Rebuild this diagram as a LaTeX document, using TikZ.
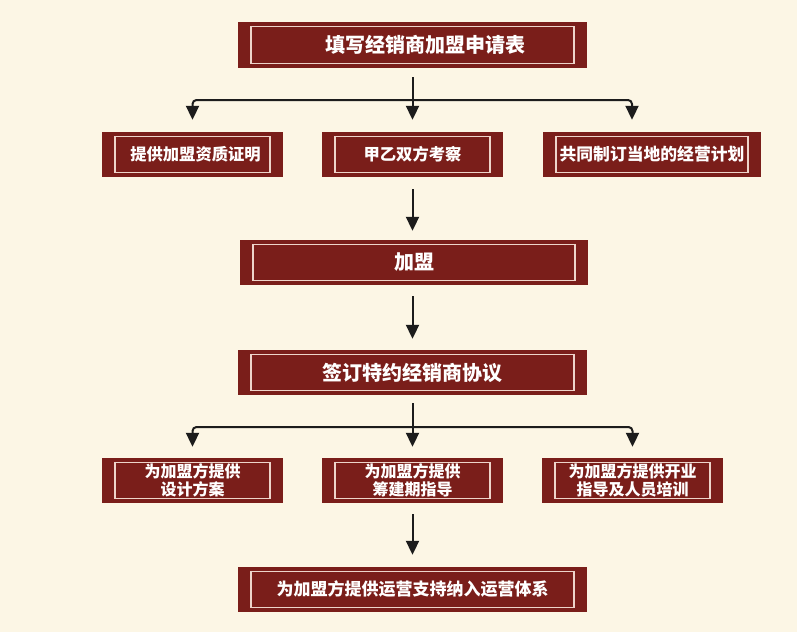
\documentclass[tikz,border=0pt]{standalone}
\usepackage{fontspec}
\newfontfamily\cjk{Noto Sans CJK SC}
\usetikzlibrary{arrows.meta}
\definecolor{bgcream}{RGB}{252,246,229}
\definecolor{boxred}{RGB}{122,30,26}
\definecolor{innerline}{RGB}{238,212,202}
\definecolor{arrowcol}{RGB}{28,28,28}
\tikzset{
  redbox/.style={fill=boxred, inner sep=0pt, text=white, align=center,
    path picture={\draw[innerline, line width=1.4pt]
      ([shift={(13pt,-4.5pt)}]path picture bounding box.north west) rectangle
      ([shift={(-13pt,4.5pt)}]path picture bounding box.south east);}},
  bigtxt/.style={font=\cjk\bfseries\fontsize{20}{24}\selectfont},
  midtxt/.style={font=\cjk\bfseries\fontsize{16.3}{19}\selectfont},
  twotxt/.style={font=\cjk\bfseries\fontsize{16}{18.5}\selectfont},
  conn/.style={draw=arrowcol, line width=2pt, rounded corners=4pt},
  arr/.style={conn, -{Triangle[width=13pt,length=14pt]}}
}
\begin{document}
\begin{tikzpicture}[x=1pt,y=-1pt]
\fill[bgcream] (0,0) rectangle (797,632);
\useasboundingbox (0,0) rectangle (797,632);

% boxes
\node[redbox, bigtxt, minimum width=349pt, minimum height=46pt] (top) at (412.5,45) {\hspace*{26pt}填写经销商加盟申请表};
\node[redbox, midtxt, minimum width=181pt, minimum height=45pt] (l2) at (192.5,154.5) {\hspace*{6pt}提供加盟资质证明};
\node[redbox, midtxt, minimum width=181pt, minimum height=45pt] (m2) at (412.5,154.5) {甲乙双方考察};
\node[redbox, font=\cjk\bfseries\fontsize{16.8}{20}\selectfont, minimum width=218pt, minimum height=45pt] (r2) at (652,154.5) {共同制订当地的经营计划};
\node[redbox, bigtxt, minimum width=348pt, minimum height=45pt] (jm) at (414,262.5) {加盟};
\node[redbox, bigtxt, minimum width=349pt, minimum height=45pt] (qd) at (412.5,372.5) {签订特约经销商协议};
\node[redbox, twotxt, minimum width=181pt, minimum height=45pt] (l4) at (192.5,480.5) {为加盟方提供\\设计方案};
\node[redbox, twotxt, minimum width=181pt, minimum height=45pt] (m4) at (412.5,480.5) {为加盟方提供\\筹建期指导};
\node[redbox, twotxt, minimum width=181pt, minimum height=45pt] (r4) at (632.5,480.5) {为加盟方提供开业\\指导及人员培训};
\node[redbox, font=\cjk\bfseries\fontsize{17}{20}\selectfont, minimum width=349pt, minimum height=45pt] (bt) at (412.5,589.5) {为加盟方提供运营支持纳入运营体系};

% branch coordinates
\coordinate (b1) at (412.5,100);
\coordinate (b1r) at (632,100);
\coordinate (b2) at (412.5,427);
\coordinate (b2r) at (632,427);

% connectors
\draw[arr, shorten <=9pt, shorten >=12pt] (top.south) -- (m2.north);
\draw[arr, shorten >=12pt] (b1) -| (l2.north);
\draw[arr, shorten >=12pt] (b1) -- (b1r) -- (b1r |- r2.north);
\draw[arr, shorten <=12pt, shorten >=9pt] (m2.south) -- (jm.north -| m2.south);
\draw[arr, shorten <=11pt, shorten >=11pt] (jm.south -| qd.north) -- (qd.north);
\draw[arr, shorten <=8pt, shorten >=11pt] (qd.south) -- (m4.north);
\draw[arr, shorten >=11pt] (b2) -| (l4.north);
\draw[arr, shorten >=11pt] (b2) -| (r4.north);
\draw[arr, shorten <=11pt, shorten >=12pt] (m4.south) -- (bt.north);
\end{tikzpicture}
\end{document}
